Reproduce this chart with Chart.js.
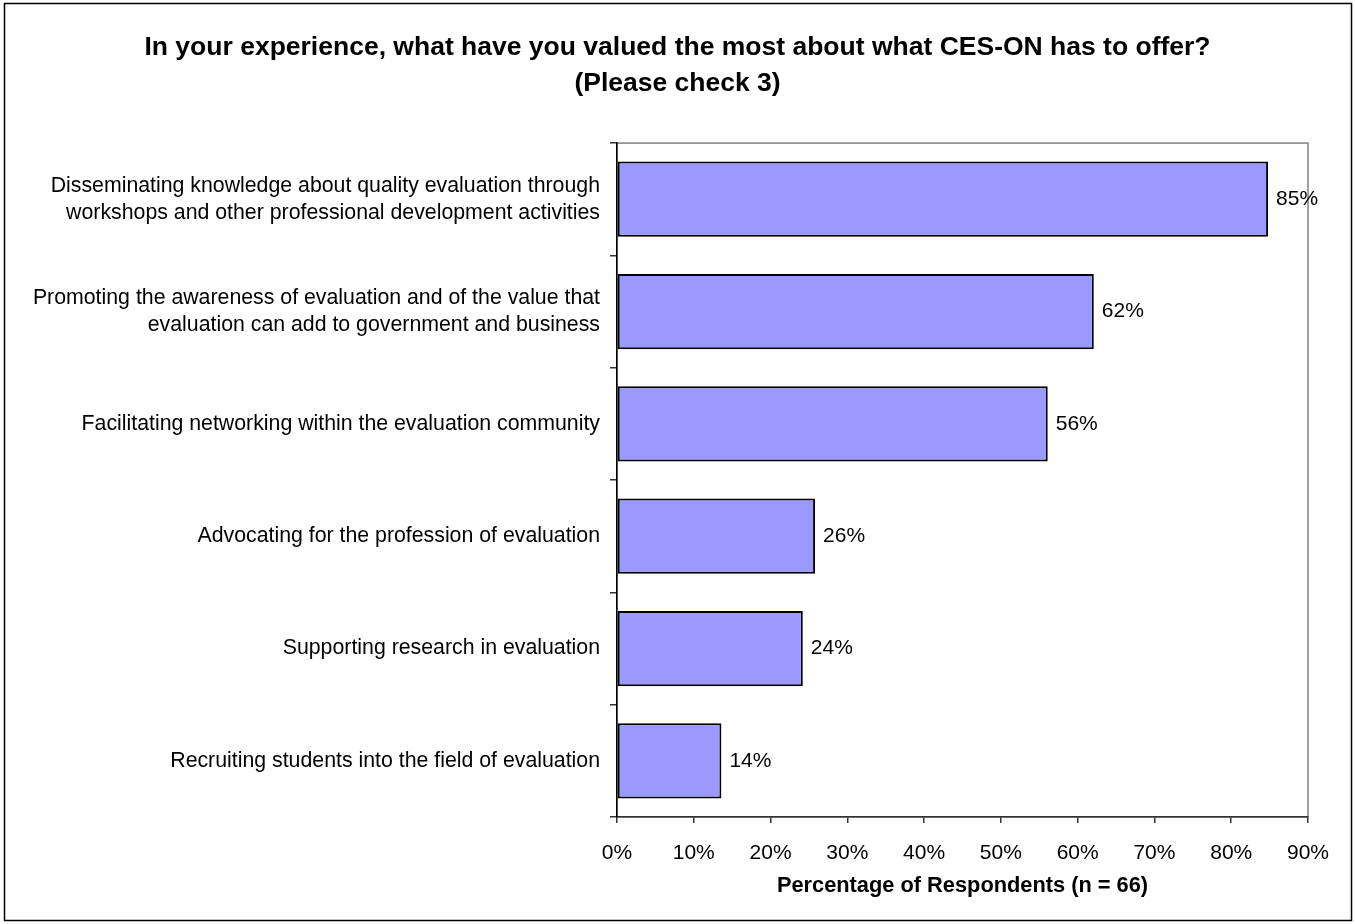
<!DOCTYPE html>
<html>
<head>
<meta charset="utf-8">
<script src="https://cdn.jsdelivr.net/npm/chart.js@4"></script>
<style>
  body { margin: 0; background: #fff; }
  #wrap { width: 1355px; height: 924px; position: relative; }
</style>
</head>
<body>
<div id="wrap"><canvas id="dataChart"></canvas></div>
<script>
// datos (n = 66)
const categories = [
  ['Disseminating knowledge about quality evaluation through', 'workshops and other professional development activities'],
  ['Promoting the awareness of evaluation and of the value that', 'evaluation can add to government and business'],
  'Facilitating networking within the evaluation community',
  'Advocating for the profession of evaluation',
  'Supporting research in evaluation',
  'Recruiting students into the field of evaluation'
]
const percentValues = [84.8, 62.1, 56.1, 25.8, 24.2, 13.6]
const xTicks = [0, 10, 20, 30, 40, 50, 60, 70, 80, 90]

const FONT = "'Liberation Sans', Arial, sans-serif"
Chart.defaults.font.family = FONT
Chart.defaults.color = '#000'

// marco del area de datos y borde exterior
const framePlugin = {
  id: 'frame',
  beforeDraw (chart) {
    const { ctx, chartArea: a } = chart
    ctx.save()
    ctx.fillStyle = '#fff'
    ctx.fillRect(0, 0, chart.width, chart.height)
    ctx.strokeStyle = '#808080'
    ctx.lineWidth = 1.5
    ctx.strokeRect(a.left, a.top, a.right - a.left, a.bottom - a.top)
    ctx.restore()
  },
  afterDraw (chart) {
    const ctx = chart.ctx
    ctx.save()
    ctx.strokeStyle = '#000'
    ctx.lineWidth = 1.5
    ctx.strokeRect(4.5, 3.5, 1347, 917)
    ctx.restore()
  }
}

// etiquetas de porcentaje al final de cada barra
const labelPlugin = {
  id: 'barLabels',
  afterDatasetsDraw (chart) {
    const ctx = chart.ctx
    const meta = chart.getDatasetMeta(0)
    ctx.save()
    ctx.font = '21px ' + FONT
    ctx.fillStyle = '#000'
    ctx.textAlign = 'left'
    ctx.textBaseline = 'middle'
    meta.data.forEach((bar, i) => {
      ctx.fillText(Math.round(percentValues[i]) + '%', bar.x + 8, bar.y)
    })
    ctx.restore()
  }
}

const dataChart = new Chart(document.getElementById('dataChart'), {
  type: 'bar',
  data: {
    labels: categories,
    datasets: [{
      data: percentValues,
      backgroundColor: '#9999FF',
      borderColor: '#000',
      borderWidth: 2,
      borderSkipped: false,
      barPercentage: 0.67,
      categoryPercentage: 1
    }]
  },
  plugins: [framePlugin, labelPlugin],
  options: {
    indexAxis: 'y',
    responsive: true,
    maintainAspectRatio: false,
    animation: false,
    layout: { padding: 0 },
    plugins: {
      legend: { display: false },
      tooltip: { enabled: false },
      title: {
        display: true,
        text: ['In your experience, what have you valued the most about what CES-ON has to offer?', '(Please check 3)'],
        font: { size: 26.5, weight: 'bold', lineHeight: 1.36 },
        color: '#000',
        padding: { top: 30, bottom: 41 }
      }
    },
    scales: {
      x: {
        min: 0,
        max: 90,
        afterBuildTicks (scale) {
          scale.ticks = xTicks.map(v => ({ value: v }))
        },
        afterFit (scale) { scale.height = 107 },
        ticks: {
          font: { size: 21 },
          color: '#000',
          padding: 18,
          maxRotation: 0,
          callback: v => v + '%'
        },
        grid: { drawOnChartArea: false, tickLength: 6, color: '#333', lineWidth: 1.5 },
        border: { color: '#333', width: 1.5 },
        title: {
          display: true,
          text: 'Percentage of Respondents (n = 66)',
          font: { size: 21.8, weight: 'bold' },
          color: '#000',
          padding: { top: 0, bottom: 25 }
        }
      },
      y: {
        afterFit (scale) { scale.width = 617 },
        ticks: {
          font: { size: 21.3, lineHeight: 1.27 },
          color: '#000',
          padding: 10
        },
        grid: { drawOnChartArea: false, tickLength: 7, color: '#333', lineWidth: 1.5, offset: true },
        border: { color: '#000', width: 1.5 }
      },
      // eje vacio a la derecha: solo reserva el margen derecho
      yRight: {
        type: 'category',
        position: 'right',
        labels: categories,
        display: true,
        afterFit (scale) { scale.width = 47 },
        ticks: { display: false },
        grid: { display: false },
        border: { display: false }
      }
    }
  }
})
</script>
</body>
</html>
